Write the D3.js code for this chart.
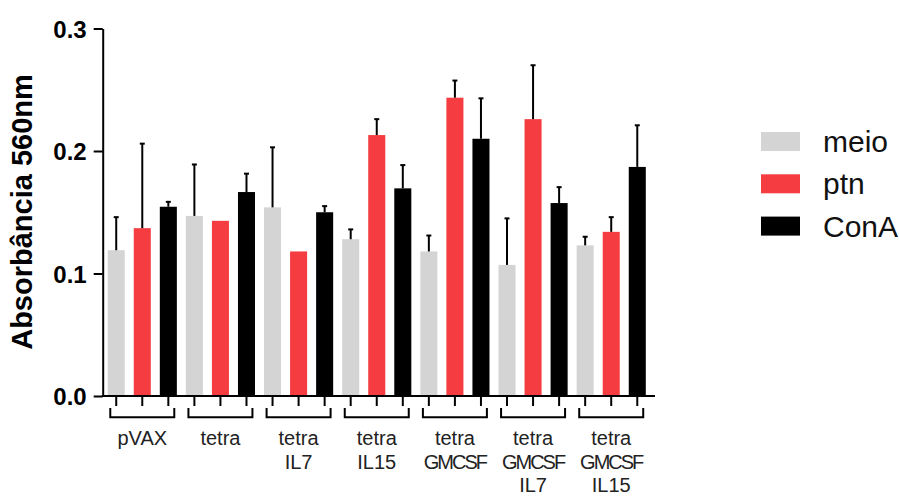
<!DOCTYPE html>
<html>
<head>
  <meta charset="UTF-8">
  <style>
    body { margin: 0; background: #fff; }
    svg { display: block; font-family: "Liberation Sans", Arial, sans-serif; }
  </style>
</head>
<body>
<svg></svg>
<script src="https://d3js.org/d3.v7.min.js"></script>
<script>

let width = 899, height = 497;

// data
let groups = ["pVAX", "tetra", "tetra IL7", "tetra IL15", "tetra GMCSF", "tetra GMCSF IL7", "tetra GMCSF IL15"];
let seriesNames = ["meio", "ptn", "ConA"];
let meio    = [0.119, 0.147, 0.154, 0.128, 0.118, 0.107, 0.123];
let meioErr = [0.027, 0.042, 0.049, 0.008, 0.013, 0.038, 0.007];
let ptn     = [0.137, 0.143, 0.118, 0.213, 0.2435, 0.226, 0.134];
let ptnErr  = [0.069, 0, 0, 0.013, 0.014, 0.044, 0.012];
let conA    = [0.1545, 0.1665, 0.150, 0.1695, 0.210, 0.1575, 0.187];
let conAErr = [0.004, 0.015, 0.005, 0.019, 0.033, 0.013, 0.034];
let yTicks  = [0.0, 0.1, 0.2, 0.3];
let colors  = ["#d4d4d4", "#f53c40", "#000000"];

let values = [meio, ptn, conA];
let errs = [meioErr, ptnErr, conAErr];

let svg = d3.select("svg")
    .attr("width", width)
    .attr("height", height);

let x0 = d3.scaleBand()
    .domain(groups)
    .range([103.2, 650.3]);

let x1 = d3.scaleBand()
    .domain(seriesNames)
    .range([0, x0.bandwidth()])
    .paddingInner(0.346)
    .paddingOuter(0.173);

let y = d3.scaleLinear()
    .domain([0, 0.3])
    .range([396, 28.5]);

let color = d3.scaleOrdinal().domain(seriesNames).range(colors);

// flatten into bar records
let bars = [];
groups.forEach((g, i) => {
    seriesNames.forEach((s, j) => {
        bars.push({ group: g, series: s, value: values[j][i], err: errs[j][i] });
    });
});

// bars
svg.append("g")
    .selectAll("rect")
    .data(bars)
    .enter()
    .append("rect")
    .attr("x", d => x0(d.group) + x1(d.series))
    .attr("y", d => y(d.value))
    .attr("width", x1.bandwidth())
    .attr("height", d => y(0) - y(d.value))
    .attr("fill", d => color(d.series));

// error bars (upper only)
let eb = svg.append("g")
    .selectAll("g")
    .data(bars.filter(d => d.err > 0))
    .enter()
    .append("g")
    .attr("stroke", "#000")
    .attr("stroke-width", 2);

eb.append("line")
    .attr("x1", d => x0(d.group) + x1(d.series) + x1.bandwidth() / 2)
    .attr("x2", d => x0(d.group) + x1(d.series) + x1.bandwidth() / 2)
    .attr("y1", d => y(d.value))
    .attr("y2", d => y(d.value + d.err));

eb.append("line")
    .attr("x1", d => x0(d.group) + x1(d.series) + x1.bandwidth() / 2 - 2.5)
    .attr("x2", d => x0(d.group) + x1(d.series) + x1.bandwidth() / 2 + 2.5)
    .attr("y1", d => y(d.value + d.err))
    .attr("y2", d => y(d.value + d.err));

// y axis
let yAxis = svg.append("g")
    .attr("transform", "translate(102.7,0)")
    .call(d3.axisLeft(y).tickValues(yTicks).tickFormat(d3.format(".1f")).tickSize(9).tickSizeOuter(0));

yAxis.select(".domain").attr("stroke-width", 2);
yAxis.selectAll(".tick line").attr("stroke-width", 2);
yAxis.selectAll(".tick text")
    .attr("x", -16)
    .attr("dy", "0.36em")
    .style("font-family", "'Liberation Sans', Arial, sans-serif")
    .style("font-size", "24px")
    .style("font-weight", "bold")
    .attr("fill", "#000");

// x baseline
svg.append("line")
    .attr("x1", 101.7).attr("x2", 655)
    .attr("y1", y(0)).attr("y2", y(0))
    .attr("stroke", "#000").attr("stroke-width", 2);

// small ticks under each bar
svg.append("g")
    .selectAll("line")
    .data(bars)
    .enter()
    .append("line")
    .attr("x1", d => x0(d.group) + x1(d.series) + x1.bandwidth() / 2)
    .attr("x2", d => x0(d.group) + x1(d.series) + x1.bandwidth() / 2)
    .attr("y1", y(0))
    .attr("y2", y(0) + 10)
    .attr("stroke", "#000").attr("stroke-width", 2);

// group brackets
svg.append("g")
    .selectAll("path")
    .data(groups)
    .enter()
    .append("path")
    .attr("d", g => {
        let cx = x0(g) + x0.bandwidth() / 2;
        let l = cx - 32, r = cx + 32;
        return `M${l},408 V417.3 H${r} V408`;
    })
    .attr("fill", "none")
    .attr("stroke", "#000")
    .attr("stroke-width", 2);

// group labels (multi-line)
let lab = svg.append("g")
    .selectAll("text")
    .data(groups)
    .enter()
    .append("text")
    .attr("text-anchor", "middle")
    .attr("font-size", "20px")
    .attr("fill", "#222");

lab.selectAll("tspan")
    .data(g => g.split(" ").map(t => ({ t: t, cx: x0(g) + x0.bandwidth() / 2 })))
    .enter()
    .append("tspan")
    .attr("x", d => d.cx)
    .attr("y", (d, i) => 445 + i * 23.5)
    .attr("letter-spacing", d => d.t === "GMCSF" ? "-2px" : null)
    .text(d => d.t);

// y label
svg.append("text")
    .attr("transform", "translate(32,212) rotate(-90)")
    .attr("text-anchor", "middle")
    .attr("font-size", "29px")
    .attr("font-weight", "bold")
    .text("Absorbância 560nm");

// legend
let leg = svg.append("g")
    .selectAll("g")
    .data(seriesNames)
    .enter()
    .append("g")
    .attr("transform", (d, i) => `translate(761,${132 + i * 42.3})`);

leg.append("rect")
    .attr("width", 39)
    .attr("height", 19)
    .attr("fill", d => color(d));

leg.append("text")
    .attr("x", 62)
    .attr("y", 20)
    .attr("font-size", "30px")
    .attr("fill", "#111")
    .text(d => d);

</script>
</body>
</html>
